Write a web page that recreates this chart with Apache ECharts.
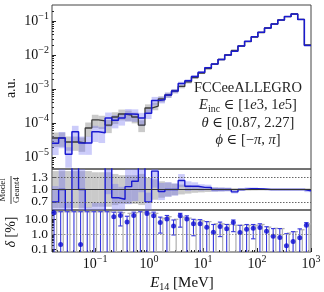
<!DOCTYPE html>
<html><head><meta charset="utf-8">
<script src="https://cdn.jsdelivr.net/npm/echarts@6/dist/echarts.min.js"></script>
<style>html,body{margin:0;padding:0;background:#fff}#c{width:324px;height:292px}</style>
</head><body><div id="c"></div>
<script>
// ---------------- data ----------------
const binEdges = [0.01585, 0.02104, 0.02794, 0.03709, 0.04924, 0.06538, 0.08681, 0.1152, 0.1530, 0.2031,
  0.2696, 0.3579, 0.4753, 0.6310, 0.8377, 1.112, 1.476, 1.960, 2.602, 3.455,
  4.586, 6.088, 8.085, 10.73, 14.25, 18.92, 25.12, 33.36, 44.29, 58.77,
  78.03, 103.6, 137.5, 182.6, 242.4, 321.9, 427.3, 567.4, 753.3, 1000];
const geant4 = [3.62e-5, 3.62e-5, 2.76e-5, 2.76e-5, 2.58e-5, 7.13e-5, 1.23e-4, 1.15e-4, 8.7e-5, 1.5e-4,
  1.84e-4, 1.72e-4, 1.5e-4, 8.7e-5, 2.76e-4, 3.16e-4, 5.08e-4, 6.67e-4, 8.73e-4, 1.19e-3,
  1.61e-3, 2.18e-3, 2.96e-3, 4.01e-3, 5.43e-3, 7.38e-3, 1.0e-2, 1.36e-2, 1.84e-2, 2.49e-2,
  3.38e-2, 4.59e-2, 6.22e-2, 8.16e-2, 0.107, 0.1355, 0.161, 0.111, 1.97e-2];
const model = [2.53e-5, 3.62e-5, 1.21e-5, 5.52e-5, 2.58e-5, 2.57e-5, 5.52e-5, 5.15e-5, 1.40e-4, 1.20e-4,
  1.40e-4, 1.84e-4, 1.80e-4, 1.40e-4, 1.93e-4, 4.58e-4, 4.83e-4, 6.67e-4, 8.73e-4, 1.45e-3,
  1.74e-3, 2.35e-3, 3.11e-3, 4.21e-3, 5.43e-3, 7.38e-3, 1.0e-2, 1.28e-2, 1.84e-2, 2.54e-2,
  3.45e-2, 4.64e-2, 6.22e-2, 8.16e-2, 0.107, 0.1355, 0.161, 0.111, 1.91e-2];
const geant4Err = [0.45, 0.45, 0.45, 0.45, 0.45, 0.45, 0.42, 0.42, 0.42, 0.38,
  0.35, 0.35, 0.35, 0.38, 0.28, 0.25, 0.2, 0.17, 0.14, 0.12,
  0.1, 0.08, 0.07, 0.06, 0.05, 0.045, 0.04, 0.035, 0.03, 0.028,
  0.025, 0.022, 0.02, 0.02, 0.02, 0.02, 0.02, 0.02, 0.03];
const modelErr = [0.55, 0.5, 0.6, 0.5, 0.55, 0.55, 0.5, 0.5, 0.45, 0.42,
  0.4, 0.4, 0.4, 0.42, 0.32, 0.28, 0.22, 0.18, 0.15, 0.13,
  0.11, 0.09, 0.075, 0.065, 0.055, 0.05, 0.045, 0.04, 0.035, 0.03,
  0.028, 0.025, 0.022, 0.022, 0.022, 0.022, 0.022, 0.022, 0.035];
// relative uncertainty delta [%]
const deltaModel = [27, 0.21, null, null, 0.21, null, null, null, null, 15,
  18, 6.6, 18, null, 24, 17, 6.2, 10.5, 3.6, 17,
  10.5, 5, 5, 3, 1.35, 3.3, 2.3, 6.2, 1.33, 2.2,
  2.5, 2.8, 1.6, 0.74, 0.62, 0.17, 0.33, 0.6, 4];
const deltaModelLo = [0.01, 0.01, 0.01, 0.01, 0.01, 0.01, 0.01, 0.01, 0.01, 0.01,
  3.6, 0.01, 0.01, 0.01, 0.01, 0.01, 1.2, 0.01, 0.9, 3,
  0.01, 0.8, 0.01, 0.01, 0.01, 0.7, 0.01, 1.5, 0.01, 0.01,
  0.5, 0.01, 0.01, 0.01, 0.01, 0.01, 0.01, 0.01, 0.01];
const deltaModelHi = [45, 32, 32, 32, 32, 32, 32, 32, 32, 30,
  30, 16, 30, 32, 35, 30, 14, 18, 9, 25,
  17, 10, 9.5, 7, 4.5, 6.5, 4.5, 9, 4, 4.5,
  4.5, 5, 3.2, 2.4, 2.4, 1.1, 1.5, 2.3, 6];
const deltaGeant4Lo = [0.01, 0.01, 0.01, 0.01, 0.01, 0.01, 0.01, 0.01, 0.01, 0.01,
  0.01, 0.01, 0.01, 0.01, 0.01, 0.01, 0.01, 0.01, 0.01, 0.01,
  0.01, 0.01, 0.01, 0.01, 0.01, 0.01, 0.01, 0.01, 0.01, 0.01,
  0.01, 0.01, 0.01, 0.01, 0.01, 0.01, 0.01, 0.01, 0.01];
const deltaGeant4Hi = [32, 32, 32, 32, 32, 32, 32, 32, 32, 30,
  28, 25, 28, 30, 26, 25, 12, 15, 10, 14,
  12, 9, 8, 7, 5, 5, 4.5, 4, 4, 4,
  4, 4.5, 3, 2.5, 2.4, 1.2, 1.5, 2, 5];
const xTickValues = [0.1, 1, 10, 100, 1000];
const mainYTickValues = [1e-5, 1e-4, 1e-3, 1e-2, 1e-1];
const ratioTickValues = [1.0, 1.3, 0.7];
const deltaTickValues = [0.1, 1, 10];
const ratioRefLines = [0.7, 1.0, 1.3];
const infoLines = [
  'FCCeeALLEGRO',
  '{i|E}{sub|inc}{n| ∈ [1}{i|e}{n|3, 1}{i|e}{n|5]}',
  '{i|θ}{n| ∈ [0.87, 2.27]}',
  '{i|ϕ}{n| ∈ [−}{i|π}{n|, }{i|π}{n|]}'
];

// ---------------- helpers ----------------
const nB = geant4.length;
const xMin = binEdges[0], xMax = binEdges[nB];
const mainYMin = Math.pow(10, -5.353), mainYMax = Math.pow(10, -0.529);
const deltaMin = Math.pow(10, -1.18), deltaMax = Math.pow(10, 1.62);
const centers = binEdges.slice(0, nB).map((e, i) => Math.sqrt(e * binEdges[i + 1]));
const ratio = model.map((m, i) => m / geant4[i]);
function stepData(vals) { const d = vals.map((v, i) => [binEdges[i], v]); d.push([binEdges[nB], vals[nB - 1]]); return d; }
function bandData(center, err) { return center.map((v, i) => [binEdges[i], v * (1 - err[i]), binEdges[i + 1], v * (1 + err[i])]); }
function minorTicks(lo, hi) { const out = []; for (let e = lo; e <= hi; e++) for (let m = 2; m <= 9; m++) out.push(m * Math.pow(10, e)); return out; }
const serif = 'Liberation Serif, DejaVu Serif, serif';
const richLog = {
  b: { fontFamily: serif, fontSize: 14, lineHeight: 20, color: '#111' },
  s: { fontFamily: serif, fontSize: 10, lineHeight: 6, verticalAlign: 'top', color: '#111' }
};
function powLabel(v) { const e = Math.round(Math.log10(v)); return '{b|10}{s|' + (e < 0 ? '−' + (-e) : e) + '}'; }

function bandItem(color) {
  return function (params, api) {
    const p0 = api.coord([api.value(0), api.value(3)]);
    const p1 = api.coord([api.value(2), api.value(1)]);
    const shape = echarts.graphic.clipRectByRect({ x: p0[0], y: p0[1], width: p1[0] - p0[0], height: p1[1] - p0[1] }, params.coordSys);
    if (!shape) return null;
    return { type: 'rect', shape: shape, style: { fill: color } };
  };
}
function errBar(color, dx, width) {
  return function (params, api) {
    const cs = params.coordSys;
    const c = api.value(0);
    const pl = api.coord([c, api.value(1)]);
    const ph = api.coord([c, api.value(2)]);
    const x = pl[0] + dx;
    const top = cs.y, bot = cs.y + cs.height;
    const y1 = Math.max(top, Math.min(bot, ph[1]));
    const y2 = Math.max(top, Math.min(bot, pl[1]));
    const st = { stroke: color, lineWidth: width };
    const ch = [{ type: 'line', shape: { x1: x, y1: y1, x2: x, y2: y2 }, style: st }];
    const cap = 2.2;
    if (ph[1] >= top && ph[1] <= bot) ch.push({ type: 'line', shape: { x1: x - cap, y1: ph[1], x2: x + cap, y2: ph[1] }, style: st });
    if (pl[1] >= top && pl[1] <= bot) ch.push({ type: 'line', shape: { x1: x - cap, y1: pl[1], x2: x + cap, y2: pl[1] }, style: st });
    return { type: 'group', children: ch };
  };
}

const grayBand = 'rgba(150,150,150,0.5)';
const blueBand = 'rgba(110,110,240,0.35)';
const blackLine = '#3c3c3c';
const blueLine = '#1a1ad0';

function hiddenX(grid) {
  return { gridIndex: grid, type: 'log', min: xMin, max: xMax, axisLine: { show: false }, axisTick: { show: false }, axisLabel: { show: false }, splitLine: { show: false } };
}
// one axis per ratio tick label so no label is dropped for overlap
const ratioAxes = ratioTickValues.map(v => ({
  gridIndex: 1, type: 'value', min: 0.5, max: 1.5, position: 'left', axisLine: { show: false },
  axisTick: { show: true, inside: true, length: 4, customValues: [v], lineStyle: { color: '#222' } },
  axisLabel: { customValues: [v], formatter: t => t.toFixed(1), fontFamily: serif, fontSize: 13.5, color: '#111', margin: 4 },
  splitLine: { show: false }
}));

const option = {
  animation: false,
  grid: [
    { left: 52, top: 5, width: 259, height: 164, show: true, borderColor: '#444', borderWidth: 1 },
    { left: 52, top: 169, width: 259, height: 41, show: true, borderColor: '#444', borderWidth: 1 },
    { left: 52, top: 210, width: 259, height: 42, show: true, borderColor: '#444', borderWidth: 1 }
  ],
  xAxis: [
    hiddenX(0), hiddenX(1),
    { gridIndex: 2, type: 'log', min: xMin, max: xMax, position: 'bottom', axisLine: { show: false },
      axisTick: { show: true, inside: true, length: 4, customValues: xTickValues, lineStyle: { color: '#222' } },
      axisLabel: { customValues: xTickValues, formatter: powLabel, rich: richLog, margin: 2 }, splitLine: { show: false } },
    { gridIndex: 2, type: 'log', min: xMin, max: xMax, position: 'bottom', axisLine: { show: false },
      axisTick: { show: true, inside: true, length: 2, customValues: minorTicks(-2, 2), lineStyle: { color: '#222' } },
      axisLabel: { show: false }, splitLine: { show: false } }
  ],
  yAxis: [
    { gridIndex: 0, type: 'log', min: mainYMin, max: mainYMax, position: 'left', axisLine: { show: false },
      axisTick: { show: true, inside: true, length: 4, customValues: mainYTickValues, lineStyle: { color: '#222' } },
      axisLabel: { customValues: mainYTickValues, formatter: powLabel, rich: richLog, margin: 3 }, splitLine: { show: false } },
    { gridIndex: 0, type: 'log', min: mainYMin, max: mainYMax, position: 'left', axisLine: { show: false },
      axisTick: { show: true, inside: true, length: 2, customValues: minorTicks(-6, -1), lineStyle: { color: '#222' } },
      axisLabel: { show: false }, splitLine: { show: false } }
  ].concat(ratioAxes).concat([
    { gridIndex: 2, type: 'log', min: deltaMin, max: deltaMax, position: 'left', axisLine: { show: false },
      axisTick: { show: true, inside: true, length: 4, customValues: deltaTickValues, lineStyle: { color: '#222' } },
      axisLabel: { customValues: deltaTickValues, formatter: v => v.toFixed(1), fontFamily: serif, fontSize: 13.5, lineHeight: 12, color: '#111', margin: 4 },
      splitLine: { show: false } },
    { gridIndex: 2, type: 'log', min: deltaMin, max: deltaMax, position: 'left', axisLine: { show: false },
      axisTick: { show: true, inside: true, length: 2, customValues: minorTicks(-2, 1), lineStyle: { color: '#222' } },
      axisLabel: { show: false }, splitLine: { show: false } }
  ]),
  series: [
    // main panel
    { type: 'custom', xAxisIndex: 0, yAxisIndex: 0, renderItem: bandItem(grayBand), data: bandData(geant4, geant4Err), z: 1 },
    { type: 'custom', xAxisIndex: 0, yAxisIndex: 0, renderItem: bandItem(blueBand), data: bandData(model, modelErr), z: 1 },
    { type: 'line', xAxisIndex: 0, yAxisIndex: 0, step: 'end', showSymbol: false, data: stepData(geant4), lineStyle: { color: blackLine, width: 1.3 }, z: 3 },
    { type: 'line', xAxisIndex: 0, yAxisIndex: 0, step: 'end', showSymbol: false, data: stepData(model), lineStyle: { color: blueLine, width: 1.5 }, z: 4 },
    // ratio panel
    { type: 'custom', xAxisIndex: 1, yAxisIndex: 2, renderItem: bandItem(grayBand), data: bandData(geant4.map(() => 1), geant4Err), z: 1 },
    { type: 'custom', xAxisIndex: 1, yAxisIndex: 2, renderItem: bandItem(blueBand), data: bandData(ratio, modelErr), z: 1 },
    { type: 'line', xAxisIndex: 1, yAxisIndex: 2, data: [], z: 2,
      markLine: { silent: true, symbol: 'none', label: { show: false }, animation: false,
        data: ratioRefLines.map(v => ({ yAxis: v, lineStyle: v === 1 ? { color: '#333', type: 'solid', width: 1.2 } : { color: '#555', type: [1.5, 1.5], width: 0.9 } })) } },
    { type: 'line', xAxisIndex: 1, yAxisIndex: 2, step: 'end', showSymbol: false, data: stepData(ratio), lineStyle: { color: blueLine, width: 1.4 }, z: 4 },
    // delta panel
    { type: 'line', xAxisIndex: 2, yAxisIndex: 5, data: [], z: 1,
      markLine: { silent: true, symbol: 'none', label: { show: false }, animation: false,
        data: [{ yAxis: 1, lineStyle: { color: '#888', type: [1.5, 1.5], width: 0.9 } }] } },
    { type: 'custom', xAxisIndex: 2, yAxisIndex: 5, renderItem: errBar('#b4b4b4', 1.3, 1.3),
      data: centers.map((c, i) => [c, deltaGeant4Lo[i], deltaGeant4Hi[i]]), z: 2 },
    { type: 'custom', xAxisIndex: 2, yAxisIndex: 5, renderItem: errBar('#3535dd', -1.3, 1.1),
      data: centers.map((c, i) => [c, deltaModelLo[i], deltaModelHi[i]]), z: 3 },
    { type: 'scatter', xAxisIndex: 2, yAxisIndex: 5, symbol: 'circle', symbolSize: 5, symbolOffset: [-1.3, 0],
      itemStyle: { color: '#0a0ad2' }, data: centers.map((c, i) => [c, deltaModel[i]]).filter(d => d[1] != null), z: 4 }
  ],
  graphic: [
    { type: 'text', x: 11, y: 88, rotation: Math.PI / 2, style: { text: 'a.u.', fontFamily: serif, fontSize: 14, fill: '#111', align: 'center', verticalAlign: 'middle' } },
    { type: 'group', x: 11, y: 190, rotation: Math.PI / 2, children: [
      { type: 'text', x: 0, y: -4, style: { text: 'Model', fontFamily: serif, fontSize: 9, fill: '#111', align: 'center', verticalAlign: 'bottom' } },
      { type: 'line', shape: { x1: -14, y1: 0, x2: 14, y2: 0 }, style: { stroke: '#111', lineWidth: 0.8 } },
      { type: 'text', x: 0, y: 1, style: { text: 'Geant4', fontFamily: serif, fontSize: 9, fill: '#111', align: 'center', verticalAlign: 'top' } }
    ] },
    { type: 'text', x: 11, y: 232, rotation: Math.PI / 2, style: { text: '{i|δ}{n| [%]}', align: 'center', verticalAlign: 'middle',
      rich: { i: { fontFamily: serif, fontSize: 14, fontStyle: 'italic', fill: '#111' }, n: { fontFamily: serif, fontSize: 14, fill: '#111' } } } },
    { type: 'text', x: 182, y: 283, style: { text: '{i|E}{sub|14}{n| [MeV]}', align: 'center', verticalAlign: 'middle',
      rich: { i: { fontFamily: serif, fontSize: 15, fontStyle: 'italic', fill: '#111', lineHeight: 18 },
        sub: { fontFamily: serif, fontSize: 10, fill: '#111', lineHeight: 9, verticalAlign: 'bottom' },
        n: { fontFamily: serif, fontSize: 15, fill: '#111', lineHeight: 18 } } } }
  ].concat(infoLines.map((t, i) => ({
    type: 'text', x: 248, y: [88, 105.5, 123, 140][i], z: 10,
    style: { text: t.indexOf('{') < 0 ? '{n|' + t + '}' : t, align: 'center', verticalAlign: 'middle',
      rich: { i: { fontFamily: serif, fontSize: 14.5, fontStyle: 'italic', fill: '#222', lineHeight: 18 },
        n: { fontFamily: serif, fontSize: 14.5, fill: '#222', lineHeight: 18 },
        sub: { fontFamily: serif, fontSize: 10, fill: '#222', lineHeight: 9, verticalAlign: 'bottom' } } }
  })))
};
const chart = echarts.init(document.getElementById('c'), null, { renderer: 'canvas' });
chart.setOption(option);
</script></body></html>
